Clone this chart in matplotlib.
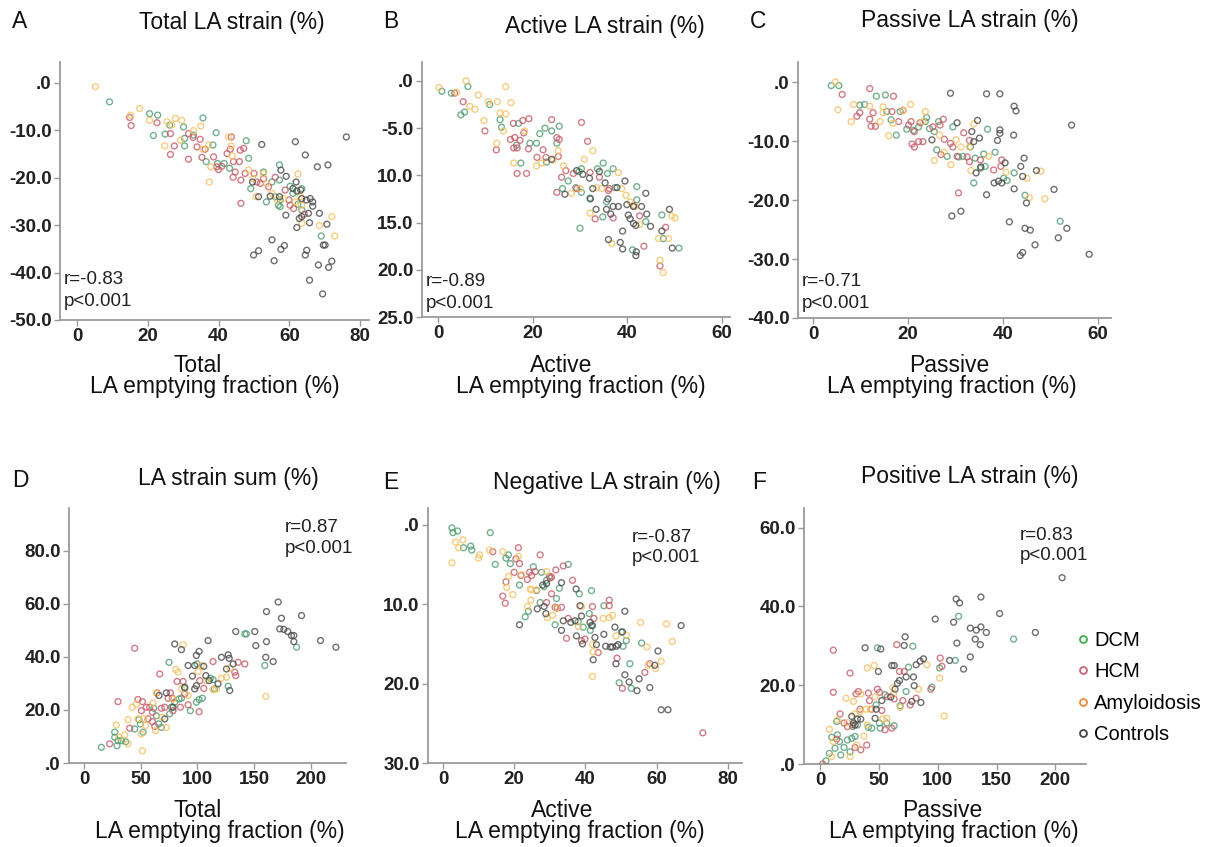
import numpy as np
import matplotlib
matplotlib.use("Agg")
import matplotlib.pyplot as plt
from matplotlib.lines import Line2D

plt.rcParams['font.family'] = ['Liberation Sans', 'DejaVu Sans']

groups = ["DCM", "HCM", "Amyloidosis", "Controls"]
point_colors = {"DCM": "#4f9d72", "HCM": "#c85a66", "Amyloidosis": "#f5c060", "Controls": "#4a4a4a"}
legend_colors = {"DCM": "#3fae4a", "HCM": "#cc6677", "Amyloidosis": "#f08a3a", "Controls": "#444444"}

# ---------------- Panel A: Total LA strain vs total LAEF ----------------
a_dcm = [(9.2,-4.0),(20.5,-6.5),(22.8,-6.8),(21.6,-11.1),(24.9,-10.8),(26.2,-8.9),(30.1,-9.3),(30.4,-11.7),
         (30.4,-13.3),(32.9,-11.0),(35.6,-7.4),(36.5,-16.6),(38.4,-13.1),(39.3,-10.5),(39.7,-17.0),(41.6,-17.0),
         (43.1,-18.0),(47.8,-12.2),(48.5,-15.9),(49.1,-22.3),(52.7,-18.8),(53.5,-25.1),(55.1,-20.9),(56.0,-24.0),
         (57.2,-17.3),(57.2,-20.5),(56.9,-25.8),(57.4,-26.1),(60.2,-21.8),(61.0,-23.3),(62.4,-25.6),(63.5,-22.3),
         (63.5,-26.8),(69.0,-32.3),(57.4,-24.7)]
a_hcm = [(14.9,-7.3),(15.3,-9.0),(22.6,-8.4),(26.4,-10.7),(26.4,-15.1),(27.5,-13.3),(31.5,-16.1),(31.5,-10.7),
         (32.8,-11.5),(33.9,-13.5),(34.8,-11.9),(35.3,-15.7),(36.2,-14.0),(38.6,-15.6),(39.5,-17.7),(40.0,-18.3),
         (40.9,-17.6),(42.4,-14.9),(43.3,-14.0),(43.6,-11.4),(44.2,-16.6),(44.1,-19.9),(44.7,-18.8),(45.9,-16.6),
         (46.1,-14.2),(46.3,-20.5),(46.3,-25.4),(47.1,-13.8),(47.5,-19.1),(50.0,-19.1),(50.8,-20.9),(51.8,-21.2),
         (52.7,-20.2),(54.1,-21.9),(56.0,-19.9),(58.8,-22.6),(59.9,-24.7),(60.2,-25.8),(61.2,-26.5),(64.2,-27.7)]
a_amy = [(5.2,-0.8),(17.7,-5.4),(15.1,-6.8),(20.5,-7.9),(25.4,-8.2),(27.8,-7.5),(29.6,-7.9),(32.9,-10.1),
         (35.0,-9.1),(35.6,-14.0),(37.2,-13.1),(37.8,-17.7),(37.4,-20.9),(24.8,-13.3),(26.8,-8.9),(42.8,-11.4),
         (43.6,-13.3),(43.8,-15.4),(48.5,-18.4),(49.7,-20.2),(50.6,-24.0),(52.7,-19.1),(53.6,-21.2),(55.1,-23.3),
         (56.5,-24.7),(58.4,-24.4),(62.4,-19.2),(61.7,-25.1),(63.1,-24.0),(63.5,-29.6),(68.5,-30.1),(72.0,-28.2),
         (72.8,-32.3),(63.5,-25.8),(29.2,-12.1)]
a_ctrl = [(52.2,-13.0),(51.3,-24.0),(49.9,-36.3),(51.3,-35.4),(55.1,-33.1),(55.7,-37.5),(57.6,-18.4),(57.6,-35.1),
          (58.6,-34.3),(59.1,-19.7),(59.0,-27.9),(61.7,-12.4),(61.9,-20.9),(61.0,-22.3),(62.1,-22.8),(62.1,-30.5),
          (62.8,-28.6),(63.2,-22.6),(63.5,-24.4),(63.5,-28.2),(64.5,-15.2),(64.8,-24.7),(64.5,-36.3),(64.9,-35.3),
          (65.4,-27.5),(65.9,-24.4),(65.7,-29.5),(65.7,-41.6),(66.6,-25.1),(66.6,-26.0),(67.9,-17.7),(68.5,-27.5),
          (68.2,-38.4),(69.4,-44.5),(69.6,-34.2),(70.1,-34.2),(70.6,-29.8),(70.9,-17.3),(71.1,-38.9),(72.0,-37.6),
          (76.1,-11.4),(57.2,-24.0),(54.6,-23.9),(49.6,-20.9)]

# ---------------- Panel B: Active LA strain vs active LAEF ----------------
b_dcm = [(0.8,1.1),(2.8,1.3),(6.3,0.6),(4.8,3.6),(5.6,3.3),(10.9,2.5),(13.1,4.1),(13.4,4.9),(17.0,4.5),(16.6,6.8),
         (17.5,8.7),(19.4,6.6),(20.8,6.6),(21.5,5.6),(22.6,5.0),(24.0,5.3),(25.6,4.8),(25.1,6.6),(22.9,8.6),(26.3,11.4),
         (27.5,10.6),(29.1,11.3),(29.8,9.6),(30.3,9.3),(30.3,11.8),(30.0,15.6),(32.1,12.4),(33.7,9.3),(34.9,8.7),(35.8,9.8),
         (35.6,12.8),(34.8,14.4),(37.0,9.3),(37.4,11.3),(41.1,17.9),(42.0,11.2),(42.0,12.6),(43.9,14.9),(47.3,14.2),(47.6,16.7),
         (50.9,17.7)]
b_hcm = [(3.5,1.3),(5.3,2.2),(9.9,5.3),(12.3,7.3),(15.9,4.5),(15.3,6.2),(16.2,6.0),(16.0,7.1),(16.7,7.1),(17.3,6.3),
         (17.9,4.2),(18.1,5.5),(16.7,9.8),(18.7,9.8),(19.2,4.0),(19.1,7.2),(20.9,8.1),(22.2,7.3),(22.8,8.1),(24.0,4.1),
         (25.1,6.0),(25.4,8.0),(25.6,6.2),(26.1,10.2),(25.1,11.8),(27.0,9.5),(28.6,9.8),(29.3,11.4),(30.3,4.4),(31.6,6.4),
         (32.1,9.7),(33.2,14.6),(34.1,10.2),(36.0,11.6),(36.2,11.4),(37.0,14.5),(41.3,13.2),(42.6,14.3),(43.5,17.5),(46.9,19.6),
         (48.1,15.5)]
b_amy = [(0.2,0.7),(5.9,0.0),(3.9,1.2),(8.5,1.5),(6.7,2.7),(7.8,3.0),(10.6,2.2),(12.5,2.2),(14.3,0.6),(15.4,2.3),
         (13.1,3.4),(14.3,3.5),(9.7,4.2),(13.8,5.3),(12.4,6.6),(16.0,8.7),(18.3,5.3),(20.8,9.0),(21.9,8.7),(24.3,8.4),
         (25.4,7.4),(26.5,9.0),(28.2,11.9),(30.0,11.4),(30.9,8.3),(32.7,7.4),(32.1,14.0),(33.5,11.3),(34.6,11.4),(36.7,17.2),
         (38.1,9.7),(38.8,11.4),(39.7,12.1),(40.6,12.8),(41.6,13.3),(42.6,15.2),(46.6,16.7),(48.7,16.7),(49.4,14.3),(50.1,14.5),
         (46.9,19.0),(47.6,20.3)]
b_ctrl = [(24.0,8.3),(26.8,12.0),(29.3,9.5),(30.6,9.9),(32.0,10.3),(32.7,11.4),(32.2,12.5),(33.4,13.6),(34.1,9.6),(35.3,10.8),
          (35.6,13.6),(35.9,12.5),(36.0,16.8),(36.5,14.1),(37.0,13.3),(37.8,11.3),(38.1,13.3),(38.5,17.1),(39.0,15.9),(39.0,17.8),
          (39.5,10.6),(39.9,13.1),(40.2,14.2),(40.6,14.6),(41.3,15.1),(41.8,15.3),(41.3,13.3),(41.8,18.5),(41.9,18.1),(43.0,13.3),
          (43.9,11.9),(44.1,14.1),(44.9,15.4),(47.3,15.9),(48.9,13.6),(49.5,17.7)]

# ---------------- Panel C: Passive LA strain vs passive LAEF ----------------
c_dcm = [(3.8,-0.6),(5.4,-0.6),(9.8,-3.9),(10.8,-3.8),(13.3,-2.4),(15.2,-2.2),(15.5,-5.0),(16.4,-6.4),(17.5,-9.0),(18.3,-5.0),
         (19.7,-8.0),(21.1,-8.2),(22.2,-7.6),(23.6,-6.7),(23.9,-6.0),(24.5,-7.9),(25.5,-8.4),(26.0,-11.5),(26.4,-6.7),(28.2,-12.6),
         (29.4,-7.6),(30.6,-12.7),(31.5,-12.6),(33.1,-11.0),(33.8,-17.1),(34.1,-12.9),(35.9,-12.2),(36.2,-14.3),(36.7,-8.0),(38.3,-11.9),
         (40.1,-16.3),(40.8,-16.7),(42.3,-15.4),(44.6,-19.2),(52.0,-23.6),(35.2,-14.6)]
c_hcm = [(6.1,-2.1),(9.2,-5.8),(9.8,-5.2),(11.9,-1.1),(11.9,-6.3),(12.2,-7.5),(13.1,-7.5),(12.6,-5.2),(16.9,-2.4),(16.6,-5.0),
         (18.0,-6.7),(18.9,-4.8),(20.1,-7.3),(20.6,-6.7),(20.8,-10.5),(21.3,-11.0),(21.3,-8.4),(22.5,-6.9),(22.2,-10.1),(23.1,-10.1),
         (25.2,-7.6),(26.7,-7.3),(27.4,-6.3),(26.9,-12.3),(27.6,-9.7),(28.9,-10.4),(29.4,-11.0),(30.3,-12.6),(30.6,-18.8),(31.7,-8.6),
         (32.4,-12.7),(32.9,-9.9),(32.9,-13.5),(35.2,-13.2),(38.0,-14.9),(39.7,-13.2),(39.5,-14.3)]
c_amy = [(4.7,0.0),(5.2,-4.7),(8.0,-6.7),(8.5,-3.8),(11.9,-4.1),(14.1,-6.7),(14.7,-4.2),(14.7,-5.2),(15.9,-9.1),(16.8,-7.0),
         (18.9,-4.8),(20.5,-3.8),(23.1,-6.7),(23.6,-5.0),(25.5,-13.3),(26.6,-9.0),(29.0,-14.0),(30.1,-9.8),(31.1,-11.0),(32.9,-11.0),
         (33.2,-15.0),(33.8,-7.1),(36.9,-12.6),(40.6,-15.3),(45.0,-16.3),(45.5,-19.6),(47.9,-15.1),(48.8,-19.8),(27.5,-11.9)]
c_ctrl = [(25.0,-9.8),(28.9,-1.9),(29.2,-22.7),(30.3,-6.9),(31.1,-21.9),(33.8,-10.1),(33.4,-8.4),(34.3,-15.4),(34.6,-6.5),(35.0,-9.5),
          (35.3,-14.4),(36.5,-2.0),(36.5,-19.1),(38.1,-17.1),(39.0,-16.8),(39.3,-2.0),(39.3,-8.1),(39.3,-8.7),(38.8,-9.9),(39.7,-17.1),
          (40.4,-13.7),(41.3,-23.7),(42.2,-9.0),(42.3,-4.1),(42.3,-18.1),(42.7,-4.9),(43.7,-14.3),(43.6,-29.4),(44.1,-28.9),(44.4,-12.9),
          (44.1,-16.0),(44.6,-24.8),(44.9,-20.5),(45.7,-25.1),(46.7,-27.6),(47.0,-15.0),(50.7,-18.2),(51.6,-26.4),(53.4,-24.8),(54.4,-7.3),
          (58.1,-29.2)]

# ---------------- Panel D: LA strain sum vs total LAEF ----------------
d_dcm = [(15.3,5.9),(27.1,11.6),(27.1,9.7),(29.1,6.5),(30.0,8.4),(32.9,8.4),(36.8,8.0),(44.7,12.8),(48.5,16.3),(49.7,14.7),
         (52.1,11.6),(61.5,20.6),(63.8,17.8),(65.9,14.7),(68.2,13.4),(75.0,37.9),(75.6,18.5),(77.1,21.0),(80.0,22.9),(83.8,24.1),
         (85.9,24.4),(88.8,28.1),(93.8,19.7),(99.1,22.9),(99.7,37.3),(101.5,23.9),(104.4,24.4),(111.5,31.9),(113.8,31.4),(115.0,27.9),
         (127.1,28.9),(141.8,48.6),(143.2,48.6),(159.4,36.7),(187.4,43.6)]
d_hcm = [(22.6,7.2),(30.0,23.1),(40.3,13.1),(44.7,43.2),(47.6,23.9),(51.5,23.1),(50.6,19.7),(55.0,21.0),(56.5,16.6),(57.9,21.0),
         (60.3,19.1),(60.3,15.6),(62.4,13.8),(64.4,26.4),(66.8,33.5),(68.2,20.6),(71.2,21.0),(74.1,24.4),(76.2,26.4),(77.9,24.4),
         (78.5,19.7),(82.1,30.7),(85.0,21.0),(87.4,30.7),(88.8,26.0),(91.8,21.9),(101.5,19.3),(102.1,31.0),(105.6,28.1),(113.8,38.2),
         (132.9,34.2),(133.8,32.9),(135.9,37.9),(141.8,37.3)]
d_amy = [(28.5,14.3),(30.9,9.7),(35.9,10.6),(38.8,7.2),(38.8,16.3),(42.6,21.0),(46.2,22.2),(47.6,16.6),(50.6,10.9),(51.5,4.6),
         (54.4,14.1),(52.6,16.8),(60.9,22.6),(63.8,26.4),(63.2,12.2),(69.1,17.2),(72.6,13.4),(78.5,24.1),(80.9,35.2),(82.9,34.2),
         (85.9,27.9),(87.4,44.5),(91.8,25.4),(100.6,34.4),(103.5,36.7),(107.9,31.0),(113.8,27.6),(116.8,27.9),(121.2,31.9),(125.6,32.3),
         (128.5,35.7),(160.3,25.1)]
d_ctrl = [(66.2,25.4),(72.6,26.4),(71.2,16.6),(78.5,21.0),(80.0,44.8),(85.9,42.7),(88.8,28.5),(91.8,36.7),(95.6,32.7),(97.6,36.7),
          (97.6,27.9),(99.1,40.5),(99.1,29.1),(101.5,42.0),(105.6,36.4),(107.4,32.9),(109.4,46.1),(110.3,31.0),(118.2,29.8),(121.2,39.8),
          (125.6,35.4),(127.1,40.7),(128.0,39.4),(128.5,27.3),(131.5,37.3),(133.8,49.5),(150.6,49.5),(151.5,44.2),(160.3,39.8),(160.9,45.7),
          (160.9,57.0),(166.8,38.2),(171.2,60.6),(172.6,50.5),(174.1,54.5),(176.2,50.3),(179.7,49.5),(182.9,48.0),(185.0,48.0),(185.0,45.7),
          (191.8,55.5),(208.5,46.1),(222.1,43.6)]

# ---------------- Panel E: Negative LA strain vs active LAEF ----------------
e_dcm = [(2.5,0.4),(2.8,1.0),(4.1,0.8),(5.8,2.9),(7.8,2.7),(8.1,3.2),(13.3,1.0),(14.7,5.0),(17.7,4.2),(18.4,3.8),
         (18.9,4.9),(21.5,7.6),(23.1,11.6),(24.0,10.9),(25.4,5.3),(26.3,8.3),(27.3,9.8),(27.7,6.0),(28.4,7.8),(29.1,7.0),
         (29.9,6.5),(31.5,12.6),(31.9,9.3),(32.7,8.0),(35.2,5.0),(38.0,12.2),(38.3,8.7),(39.4,12.9),(41.1,11.2),(41.4,13.3),
         (41.7,8.3),(41.7,12.7),(45.2,10.2),(49.5,19.9),(50.1,13.5),(50.6,15.3),(51.5,14.6),(52.5,17.5),(52.9,20.6),(55.8,14.9)]
e_hcm = [(14.0,3.4),(17.7,7.2),(16.8,9.0),(17.5,9.9),(20.0,6.0),(20.5,4.3),(21.2,2.9),(21.5,4.9),(21.9,6.4),(23.7,6.9),
         (24.3,6.0),(24.9,6.4),(25.9,5.9),(27.3,3.8),(29.1,9.8),(30.1,6.7),(30.5,6.6),(30.5,8.7),(31.5,10.4),(32.1,10.5),
         (33.3,10.4),(33.8,5.2),(31.7,5.7),(34.7,14.3),(35.2,11.8),(36.4,7.0),(38.9,14.6),(39.9,14.4),(42.0,10.3),(43.6,16.1),
         (42.4,11.8),(46.7,9.5),(46.7,10.2),(48.9,16.8),(50.4,20.6),(56.7,18.6),(58.1,17.5),(73.0,26.2)]
e_amy = [(2.5,4.8),(3.5,2.2),(4.4,2.9),(5.6,1.9),(10.0,4.2),(10.3,3.8),(13.1,3.2),(16.8,3.4),(17.9,7.9),(18.4,6.5),
         (19.6,8.8),(21.2,4.0),(22.1,6.3),(23.7,10.3),(24.5,8.1),(24.7,9.5),(24.9,8.2),(26.3,8.2),(29.1,5.9),(29.3,11.7),
         (30.8,11.4),(31.9,10.5),(38.0,12.8),(38.9,10.3),(42.0,15.1),(42.2,16.0),(42.0,19.1),(45.0,11.8),(46.7,11.7),(47.6,11.4),
         (48.6,14.0),(51.5,13.9),(55.5,12.3),(57.3,15.4),(57.6,17.7),(59.8,18.1),(61.3,17.2),(62.8,12.5),(64.4,14.7)]
e_ctrl = [(21.5,12.6),(26.5,10.6),(28.0,7.6),(28.4,10.3),(28.9,11.2),(29.1,7.4),(33.3,7.3),(33.3,13.3),(33.8,12.1),(35.9,12.3),
          (37.1,12.1),(37.4,8.1),(37.5,14.0),(38.5,10.2),(38.9,11.5),(39.2,15.0),(41.3,12.3),(42.0,12.7),(42.2,17.0),(42.7,14.2),
          (43.1,15.1),(45.2,13.8),(45.7,15.3),(47.0,15.4),(47.6,15.4),(48.3,12.9),(48.7,15.3),(49.2,15.1),(48.6,17.5),(50.4,13.5),
          (51.1,10.9),(51.1,18.9),(52.3,19.8),(54.5,20.9),(55.1,19.4),(58.1,20.5),(59.5,17.7),(60.4,15.9),(61.3,23.3),(63.2,23.3),
          (66.9,12.7)]

# ---------------- Panel F: Positive LA strain vs passive LAEF ----------------
f_dcm = [(5.1,0.8),(7.9,2.7),(9.9,6.8),(12.8,4.0),(14.2,10.8),(14.8,7.4),(16.5,5.7),(17.6,2.3),(20.4,4.2),(23.3,6.1),
         (25.5,3.1),(27.0,6.5),(27.8,9.5),(29.8,7.0),(31.8,9.9),(41.1,9.3),(43.9,9.1),(47.7,15.0),(48.8,29.5),(50.5,10.4),
         (51.1,9.1),(55.3,17.6),(56.7,10.4),(63.0,9.7),(68.1,14.8),(73.2,18.4),(75.2,24.6),(78.9,29.9),(95.0,19.5),(101.6,24.4),
         (114.9,26.3),(117.7,37.5),(164.5,31.7)]
f_hcm = [(2.3,0.0),(11.3,28.9),(11.3,18.2),(14.2,6.3),(17.0,12.7),(20.4,10.4),(23.3,9.5),(25.5,23.1),(27.8,9.9),(29.8,4.2),
         (30.6,17.8),(32.6,18.4),(34.0,13.9),(34.6,3.6),(39.7,4.8),(41.1,18.0),(42.0,16.1),(43.9,13.9),(48.8,19.0),(50.5,18.2),
         (52.5,13.6),(55.3,8.7),(57.3,17.1),(61.0,9.1),(63.0,16.5),(65.2,30.3),(67.5,23.5),(70.4,16.1),(71.5,23.5),(76.6,15.0),
         (81.7,16.7),(94.2,19.0),(102.1,26.9),(103.5,24.8)]
f_amy = [(7.9,8.8),(9.9,1.9),(11.3,5.7),(14.8,11.2),(22.1,16.7),(23.3,10.5),(25.5,1.9),(28.4,15.9),(29.8,12.7),(31.2,4.8),
         (34.0,13.3),(34.6,17.8),(37.4,7.1),(39.1,13.9),(40.2,24.4),(40.2,9.9),(42.8,13.9),(46.0,25.0),(46.8,17.1),(53.3,11.4),
         (56.7,11.6),(61.8,19.3),(62.4,17.8),(68.1,14.4),(83.7,19.0),(90.8,25.2),(101.6,21.8),(105.5,12.2)]
f_ctrl = [(27.0,12.1),(28.4,10.4),(29.8,9.9),(31.8,11.4),(34.6,11.4),(38.3,29.5),(46.8,11.6),(47.7,13.9),(49.6,23.5),(51.6,29.2),
          (52.5,16.1),(60.1,17.0),(61.0,25.0),(63.0,25.0),(63.8,19.0),(65.8,20.5),(67.5,21.2),(71.5,30.1),(72.3,32.3),(73.2,22.1),
          (78.0,15.9),(79.4,22.1),(80.0,19.9),(81.7,25.2),(85.1,26.1),(87.9,26.7),(85.7,15.6),(97.9,36.8),(110.1,26.3),(113.5,36.0),
          (115.7,41.9),(116.3,30.7),(118.6,40.9),(122.0,24.1),(127.7,27.2),(127.7,34.5),(131.9,31.7),(132.8,34.0),(136.2,30.3),(136.7,42.4),
          (136.7,34.8),(141.3,33.4),(152.6,38.2),(183.0,33.4),(205.7,47.3)]

# ---------------- Text / ticks ----------------
letters = ["A", "B", "C", "D", "E", "F"]
titles = ["Total LA strain (%)", "Active LA strain (%)", "Passive LA strain (%)",
          "LA strain sum (%)", "Negative LA strain (%)", "Positive LA strain (%)"]
xlabel_top = ["Total", "Active", "Passive", "Total", "Active", "Passive"]
xlabel_bottom = "LA emptying fraction (%)"
r_texts = ["r=-0.83", "r=-0.89", "r=-0.71", "r=0.87", "r=-0.87", "r=0.83"]
p_text = "p<0.001"

xticks = [[0, 20, 40, 60, 80], [0, 20, 40, 60], [0, 20, 40, 60],
          [0, 50, 100, 150, 200], [0, 20, 40, 60, 80], [0, 50, 100, 150, 200]]
yticks = [[0, -10, -20, -30, -40, -50], [0, 5, 10, 15, 20, 25], [0, -10, -20, -30, -40],
          [0, 20, 40, 60, 80], [0, 10, 20, 30], [0, 20, 40, 60]]
ytick_labels = [[".0", "-10.0", "-20.0", "-30.0", "-40.0", "-50.0"],
                [".0", "-5.0", "10.0", "15.0", "20.0", "25.0"],
                [".0", "-10.0", "-20.0", "-30.0", "-40.0"],
                [".0", "20.0", "40.0", "60.0", "80.0"],
                [".0", "10.0", "20.0", "30.0"],
                [".0", "20.0", "40.0", "60.0"]]

panel_data = [
    {"DCM": a_dcm, "HCM": a_hcm, "Amyloidosis": a_amy, "Controls": a_ctrl},
    {"DCM": b_dcm, "HCM": b_hcm, "Amyloidosis": b_amy, "Controls": b_ctrl},
    {"DCM": c_dcm, "HCM": c_hcm, "Amyloidosis": c_amy, "Controls": c_ctrl},
    {"DCM": d_dcm, "HCM": d_hcm, "Amyloidosis": d_amy, "Controls": d_ctrl},
    {"DCM": e_dcm, "HCM": e_hcm, "Amyloidosis": e_amy, "Controls": e_ctrl},
    {"DCM": f_dcm, "HCM": f_hcm, "Amyloidosis": f_amy, "Controls": f_ctrl},
]

# ---------------- Layout (pixel based) ----------------
W, H = 1208, 847
fig = plt.figure(figsize=(W / 100, H / 100), dpi=100)

def fx(px):
    return px / W

def fy(py):
    return 1 - py / H

# left, right, top, bottom in pixels; xlim; ylim (bottom, top)
boxes = [
    (60, 369, 62, 320, (-4.8, 82.5), (-50, 4.4)),
    (422, 730, 62, 317, (-3.4, 61.7), (25, -2.0)),
    (798, 1111, 62, 318, (-3.2, 62.7), (-40, 3.4)),
    (69, 346, 508, 763, (-13.2, 231), (0, 96)),
    (428, 742, 508, 763, (-4.2, 84), (30, -2.1)),
    (804, 1086, 508, 764, (-13.6, 226), (0, 65)),
]

letter_pos = [(12, 22), (383, 22), (750, 22), (12, 480), (383, 482), (752, 482)]
title_pos = [(232, 22), (605, 27), (970, 20), (228, 478), (607, 482), (970, 476)]
xl1_pos = [(198, 365), (561, 365), (949, 365), (198, 810), (562, 810), (942, 810)]
xl2_pos = [(215, 386), (581, 386), (952, 386), (220, 831), (580, 831), (954, 831)]
r_pos = [(64, 280), (426, 282), (802, 282), (285, 527), (632, 537), (1020, 535)]

axes = []
for i, (l, r, t, b, xl, yl) in enumerate(boxes):
    ax = fig.add_axes([fx(l), fy(b), (r - l) / W, (b - t) / H])
    axes.append(ax)
    for g in groups:
        pts = np.array(panel_data[i][g])
        ax.scatter(pts[:, 0], pts[:, 1], s=18, facecolors="none",
                   edgecolors=point_colors[g], linewidths=1.0, alpha=0.8, zorder=3)
    ax.set_xlim(*xl)
    ax.set_ylim(*yl)
    ax.set_xticks(xticks[i])
    ax.set_xticklabels([str(v) for v in xticks[i]])
    ax.set_yticks(yticks[i])
    ax.set_yticklabels(ytick_labels[i])
    for side in ("top", "right"):
        ax.spines[side].set_visible(False)
    for side in ("left", "bottom"):
        ax.spines[side].set_color("#9a9a9a")
        ax.spines[side].set_linewidth(1.3)
    ax.tick_params(axis="both", direction="out", length=4, width=1.0, color="#9a9a9a",
                   labelsize=13.5, pad=2)
    for lab in ax.get_xticklabels() + ax.get_yticklabels():
        lab.set_fontweight("bold")
        lab.set_color("#222222")

    fig.text(fx(letter_pos[i][0]), fy(letter_pos[i][1]), letters[i], fontsize=16.5,
             ha="left", va="center", color="#111111")
    fig.text(fx(title_pos[i][0]), fy(title_pos[i][1]), titles[i], fontsize=16.5,
             ha="center", va="center", color="#111111")
    fig.text(fx(xl1_pos[i][0]), fy(xl1_pos[i][1]), xlabel_top[i], fontsize=16.5,
             ha="center", va="center", color="#111111")
    fig.text(fx(xl2_pos[i][0]), fy(xl2_pos[i][1]), xlabel_bottom, fontsize=16.5,
             ha="center", va="center", color="#111111")
    fig.text(fx(r_pos[i][0]), fy(r_pos[i][1]), r_texts[i], fontsize=13.5,
             ha="left", va="center", color="#222222")
    fig.text(fx(r_pos[i][0]), fy(r_pos[i][1] + 21), p_text, fontsize=13.5,
             ha="left", va="center", color="#222222")

handles = [Line2D([], [], marker="o", linestyle="none", markersize=5,
                  markerfacecolor="none", markeredgecolor=legend_colors[g],
                  markeredgewidth=1.3) for g in groups]
fig.legend(handles, groups, loc="upper left", bbox_to_anchor=(fx(1074), fy(631)),
           frameon=False, fontsize=14.5, handletextpad=0.1, handlelength=0.9,
           labelspacing=0.62, borderaxespad=0, borderpad=0)

fig.savefig("out.png", dpi=100)
